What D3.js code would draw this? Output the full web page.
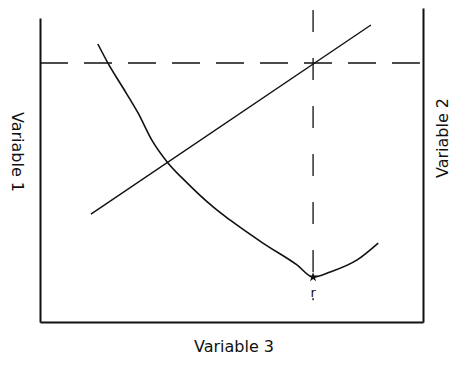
<!DOCTYPE html>
<html>
<head>
<meta charset="utf-8">
<script src="https://cdn.jsdelivr.net/npm/d3@7"></script>
<style>
  body { margin: 0; background: #fff; }
  text { font-family: "DejaVu Sans", sans-serif; fill: #111; }
</style>
</head>
<body>
<svg></svg>
<script>
const width = 466;
const height = 371;

// units are arbitrary 0..10
const curveX = [1.51, 1.80, 2.17, 2.56, 2.92, 3.32, 3.84, 4.52, 4.96, 5.82, 6.71, 7.13, 7.57, 8.28, 8.83];
const curveY = [8.91, 8.24, 7.50, 6.70, 5.83, 5.13, 4.46, 3.69, 3.27, 2.53, 1.83, 1.44, 1.60, 1.99, 2.53];
const lineX = [1.33, 8.64];
const lineY = [3.46, 9.52];
const optimum = { x: 7.13, y: 8.30, label: 'r' };
const axisLabels = ['Variable 3', 'Variable 1', 'Variable 2'];

const svg = d3.select('svg')
  .attr('width', width)
  .attr('height', height);

const x = d3.scaleLinear().domain([0, 10]).range([40, 423]);
const y = d3.scaleLinear().domain([0, 10]).range([322, 10]);

// axes, no ticks
svg.append('g')
  .attr('transform', `translate(0,${y(0)})`)
  .call(d3.axisBottom(x).ticks(0).tickSizeOuter(0));
svg.append('g')
  .attr('transform', `translate(${x(0)},0)`)
  .call(d3.axisLeft(y.copy().range([322, 18])).ticks(0).tickSizeOuter(0));
svg.append('g')
  .attr('transform', `translate(${x(10)},0)`)
  .call(d3.axisRight(y.copy().range([322, 8])).ticks(0).tickSizeOuter(0));
svg.selectAll('.domain').attr('stroke', '#111').attr('stroke-width', 2);

// dashed guides through the crossing point
svg.append('line')
  .attr('x1', x(0)).attr('x2', x(9.92))
  .attr('y1', y(optimum.y)).attr('y2', y(optimum.y))
  .attr('stroke', '#111').attr('stroke-width', 1.5)
  .attr('stroke-dasharray', '28,16');
svg.append('line')
  .attr('x1', x(optimum.x)).attr('x2', x(optimum.x))
  .attr('y1', y(10)).attr('y2', y(0.7))
  .attr('stroke', '#111').attr('stroke-width', 1.3)
  .attr('stroke-dasharray', '22,26');

const curve = curveX.map((d, i) => [d, curveY[i]]);
svg.append('path')
  .datum(curve)
  .attr('fill', 'none')
  .attr('stroke', '#111')
  .attr('stroke-width', 1.6)
  .attr('d', d3.line().x(d => x(d[0])).y(d => y(d[1])).curve(d3.curveMonotoneX));

const straight = lineX.map((d, i) => [d, lineY[i]]);
svg.append('path')
  .datum(straight)
  .attr('fill', 'none')
  .attr('stroke', '#111')
  .attr('stroke-width', 1.4)
  .attr('d', d3.line().x(d => x(d[0])).y(d => y(d[1])));

// star at the curve minimum
const minIdx = d3.minIndex(curveY);
svg.append('path')
  .attr('d', d3.symbol(d3.symbolStar, 30)())
  .attr('transform', `translate(${x(curveX[minIdx])},${y(curveY[minIdx])})`)
  .attr('fill', '#111');
svg.append('text')
  .attr('x', x(curveX[minIdx]))
  .attr('y', y(curveY[minIdx]) + 20)
  .attr('text-anchor', 'middle')
  .style('font-size', '13px')
  .text(optimum.label);

// axis titles
svg.append('text')
  .attr('x', 234).attr('y', 352)
  .attr('text-anchor', 'middle')
  .style('font-size', '16px')
  .text(axisLabels[0]);
svg.append('text')
  .attr('transform', 'translate(12,152) rotate(90)')
  .attr('text-anchor', 'middle')
  .style('font-size', '16px')
  .text(axisLabels[1]);
svg.append('text')
  .attr('transform', 'translate(448,138) rotate(-90)')
  .attr('text-anchor', 'middle')
  .style('font-size', '16px')
  .text(axisLabels[2]);
</script>
</body>
</html>
